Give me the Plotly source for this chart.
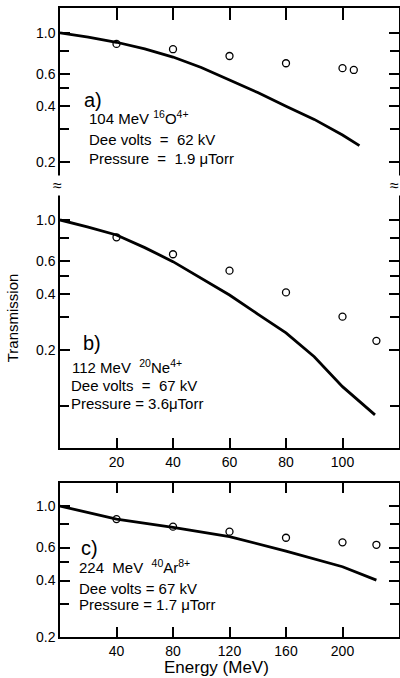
import plotly.graph_objects as go

# ---- data ----
# panel a: 104 MeV 16O4+
a_pts_x = [20, 40, 60, 80, 100, 104]
a_pts_y = [0.872, 0.816, 0.750, 0.685, 0.644, 0.630]
a_line_x = [0, 10, 20, 30, 40, 50, 60, 70, 80, 90, 100, 106]
a_line_y = [1.0, 0.95, 0.89, 0.82, 0.74, 0.65, 0.556, 0.475, 0.40, 0.34, 0.28, 0.245]

# panel b: 112 MeV 20Ne4+
b_pts_x = [20, 40, 60, 80, 100, 112]
b_pts_y = [0.807, 0.654, 0.534, 0.408, 0.302, 0.224]
b_line_x = [0, 10, 20, 30, 40, 50, 60, 70, 80, 90, 100, 111.5]
b_line_y = [1.0, 0.916, 0.83, 0.71, 0.597, 0.488, 0.395, 0.312, 0.247, 0.184, 0.127, 0.0895]

# panel c: 224 MeV 40Ar8+
c_pts_x = [40, 80, 120, 160, 200, 224]
c_pts_y = [0.852, 0.776, 0.730, 0.677, 0.640, 0.621]
c_line_x = [0, 40, 80, 120, 160, 200, 224]
c_line_y = [1.0, 0.852, 0.77, 0.686, 0.575, 0.474, 0.402]

ab_xticks = [20, 40, 60, 80, 100]
c_xticks = [40, 80, 120, 160, 200]
y_tickvals = [0.2, 0.4, 0.6, 1.0]
y_ticktext = ["0.2", "0.4", "0.6", "1.0"]
y_minor = [0.3, 0.5, 0.8]
b_minor = [0.1, 0.3, 0.5, 0.8]

FONT = "Liberation Sans"
fig = go.Figure()

def add_panel(lx, ly, px, py, xa, ya):
    fig.add_trace(go.Scatter(x=lx, y=ly, mode="lines", line=dict(color="black", width=2.8),
                             xaxis=xa, yaxis=ya, showlegend=False, hoverinfo="skip"))
    fig.add_trace(go.Scatter(x=px, y=py, mode="markers",
                             marker=dict(symbol="circle-open", size=7, color="black", line=dict(width=1.3)),
                             xaxis=xa, yaxis=ya, showlegend=False))

add_panel(a_line_x, a_line_y, a_pts_x, a_pts_y, "x", "y")
add_panel(b_line_x, b_line_y, b_pts_x, b_pts_y, "x2", "y2")
add_panel(c_line_x, c_line_y, c_pts_x, c_pts_y, "x3", "y3")

axis_common = dict(showgrid=False, zeroline=False, showline=True, linecolor="black", linewidth=1.5,
                   ticks="inside", tickcolor="black", tickwidth=1.5,
                   tickfont=dict(family=FONT, size=14, color="black"))

def minor(vals):
    return dict(tickmode="array", tickvals=vals, ticks="inside", ticklen=9,
                tickcolor="black", tickwidth=1.5, showgrid=False)

fig.update_layout(
    width=400, height=678,
    margin=dict(l=60, r=1, t=8, b=41, autoexpand=False),
    paper_bgcolor="white", plot_bgcolor="white",
    font=dict(family=FONT, color="black"),
    xaxis=dict(domain=[0, 1], range=[0, 120], side="top", anchor="y", tickvals=ab_xticks,
               showticklabels=False, ticklen=12, **axis_common),
    yaxis=dict(domain=[0.7186, 1.0], type="log", range=[-0.824, 0.135], anchor="x",
               tickvals=y_tickvals, ticktext=y_ticktext, ticklen=10, mirror="ticks",
               minor=minor(y_minor), **axis_common),
    xaxis2=dict(domain=[0, 1], range=[0, 120], anchor="y2", tickvals=ab_xticks, ticklen=10,
                **axis_common),
    yaxis2=dict(domain=[0.3005, 0.7186], type="log", range=[-1.226, 0.188], anchor="x2",
                tickvals=y_tickvals, ticktext=y_ticktext, ticklen=10, mirror="ticks",
                minor=minor(b_minor), **axis_common),
    xaxis3=dict(domain=[0, 1], range=[0, 240], anchor="y3", tickvals=c_xticks, ticklen=10,
                mirror="ticks", **axis_common),
    yaxis3=dict(domain=[0, 0.2448], type="log", range=[-0.6995, 0.123], anchor="x3",
                tickvals=y_tickvals, ticktext=y_ticktext, ticklen=10, mirror="ticks",
                minor=minor(y_minor), **axis_common),
)

def note(text, x, y, size=15):
    fig.add_annotation(text=text, x=x, y=y, xref="paper", yref="paper", xanchor="left",
                       yanchor="middle", showarrow=False,
                       font=dict(family=FONT, size=size, color="black"))

# panel a
note("a)", 0.064, 0.8537, 20)
note("104 MeV <sup>16</sup>O<sup>4+</sup>", 0.080, 0.8267)
note("Dee volts  =  62 kV", 0.080, 0.7917)
note("Pressure  =  1.9 μTorr", 0.080, 0.7615)
# panel b
note("b)", 0.062, 0.4674, 20)
note("112 MeV  <sup>20</sup>Ne<sup>4+</sup>", 0.030, 0.4308)
note("Dee volts  =  67 kV", 0.028, 0.4006)
note("Pressure = 3.6μTorr", 0.028, 0.372)
# panel c
note("c)", 0.055, 0.1415, 20)
note("224  MeV  <sup>40</sup>Ar<sup>8+</sup>", 0.050, 0.1113)
note("Dee volts = 67 kV", 0.050, 0.0779)
note("Pressure = 1.7 μTorr", 0.050, 0.0509)

# axis break marks
for bx in (-0.008, 0.988):
    fig.add_annotation(text="≈", x=bx, y=0.7186, xref="paper", yref="paper", showarrow=False,
                       xanchor="center", yanchor="middle", bgcolor="white",
                       font=dict(family=FONT, size=16, color="black"))

# axis titles
fig.add_annotation(text="Energy (MeV)", x=0.462, y=-0.049, xref="paper", yref="paper",
                   showarrow=False, xanchor="center", yanchor="middle",
                   font=dict(family=FONT, size=17, color="black"))
fig.add_annotation(text="Transmission", x=-0.141, y=0.507, xref="paper", yref="paper",
                   showarrow=False, xanchor="center", yanchor="middle", textangle=-90,
                   font=dict(family=FONT, size=15, color="black"))

fig.write_html("out.html", config={"displayModeBar": False},
               post_script="document.body.style.margin='0px';document.body.style.overflow='hidden';")
